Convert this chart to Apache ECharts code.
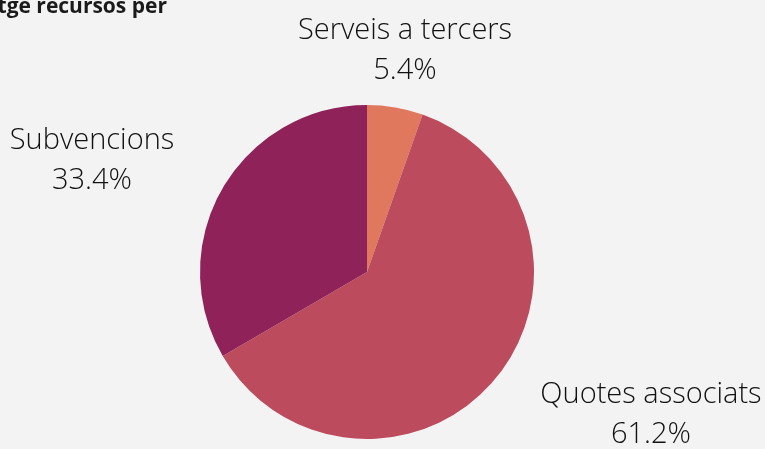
<!DOCTYPE html>
<html><head><meta charset="utf-8">
<script src="https://cdn.jsdelivr.net/npm/echarts@6/dist/echarts.min.js"></script>
<style>html,body{margin:0;padding:0;background:#f3f3f3}#c{width:765px;height:449px}</style>
</head><body><div id="c"></div>
<script>
const categories = ['Serveis a tercers', 'Quotes associats', 'Subvencions'];
const values = [5.4, 61.2, 33.4];
const colors = ['#e0785e', '#bd4b5e', '#8f2258'];
const titleText = 'Percentatge recursos per';

const labelPos = [[405, 51], [651, 415], [92, 161]];

const chart = echarts.init(document.getElementById('c'));
chart.setOption({
  backgroundColor: '#f3f3f3',
  animation: false,
  graphic: [{
    type: 'text', x: 167, y: -3,
    style: { text: titleText, font: 'bold 21px "Open Sans"', fill: '#1a1a1a', align: 'right', verticalAlign: 'top' }
  }],
  series: [{
    type: 'pie',
    center: [367, 272],
    radius: [0, 167],
    startAngle: 90,
    clockwise: true,
    data: categories.map((c, i) => ({ name: c, value: values[i], itemStyle: { color: colors[i] } })),
    label: {
      show: true,
      position: 'outside',
      formatter: p => p.name + '\n' + p.value.toFixed(1) + '%',
      fontFamily: 'Open Sans',
      fontWeight: 300,
      fontSize: 29,
      lineHeight: 40,
      color: '#111',
      align: 'center',
      overflow: 'none',
      width: 400
    },
    labelLine: { show: false },
    labelLayout: p => ({ x: labelPos[p.dataIndex][0], y: labelPos[p.dataIndex][1], align: 'center', verticalAlign: 'middle' })
  }]
});
</script></body></html>
